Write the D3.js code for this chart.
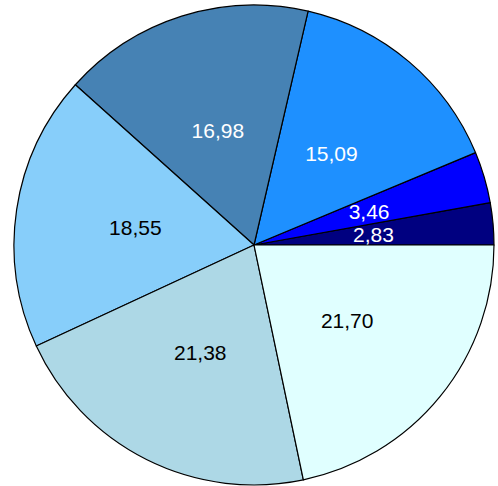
<!DOCTYPE html>
<html>
<head>
<meta charset="utf-8">
<script src="https://cdn.jsdelivr.net/npm/d3@7"></script>
<style>
  html, body { margin: 0; padding: 0; background: #ffffff; }
  svg { display: block; }
</style>
</head>
<body>
<svg id="chart" width="498" height="486"></svg>
<script>
// Slice values, listed counter-clockwise from 3 o'clock
const values = [2.83, 3.46, 15.09, 16.98, 18.55, 21.38, 21.70];
const labels = ["2,83", "3,46", "15,09", "16,98", "18,55", "21,38", "21,70"];
const colors = ["#000080", "#0000ff", "#1e90ff", "#4682b4", "#87cefa", "#add8e6", "#e0ffff"];
const textColors = ["#ffffff", "#ffffff", "#ffffff", "#ffffff", "#000000", "#000000", "#000000"];

const width = 498, height = 486;
const cx = 254, cy = 245, radius = 240;

const svg = d3.select("#chart");
const g = svg.append("g").attr("transform", `translate(${cx},${cy})`);

// Start at east and run counter-clockwise
const pie = d3.pie()
  .sort(null)
  .value(d => d)
  .startAngle(Math.PI / 2)
  .endAngle(Math.PI / 2 - 2 * Math.PI);

const arcs = pie(values);

const arc = d3.arc().innerRadius(0).outerRadius(radius);
const labelArc = d3.arc().innerRadius(radius / 2).outerRadius(radius / 2);

g.selectAll("path.slice")
  .data(arcs)
  .join("path")
  .attr("class", "slice")
  .attr("d", arc)
  .attr("fill", (d, i) => colors[i])
  .attr("stroke", "#000000")
  .attr("stroke-width", 1.2)
  .attr("stroke-linejoin", "round");

g.selectAll("text.label")
  .data(arcs)
  .join("text")
  .attr("class", "label")
  .attr("transform", d => `translate(${labelArc.centroid(d)})`)
  .attr("text-anchor", "middle")
  .attr("dominant-baseline", "central")
  .attr("font-family", "'Liberation Sans', Arial, sans-serif")
  .attr("font-size", 21)
  .attr("fill", (d, i) => textColors[i])
  .text((d, i) => labels[i]);
</script>
</body>
</html>
